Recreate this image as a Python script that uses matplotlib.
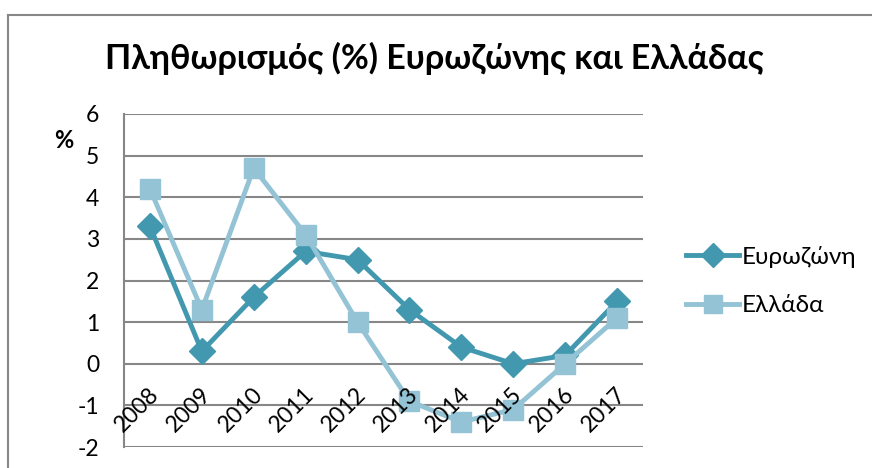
import matplotlib
matplotlib.use("Agg")
import matplotlib.pyplot as plt
from matplotlib.lines import Line2D
import matplotlib.transforms as mtransforms

years = ["2008", "2009", "2010", "2011", "2012", "2013", "2014", "2015", "2016", "2017"]
eurozone = [3.3, 0.3, 1.6, 2.7, 2.5, 1.3, 0.4, 0.0, 0.2, 1.5]
greece = [4.2, 1.3, 4.7, 3.1, 1.0, -0.9, -1.4, -1.1, 0.0, 1.1]
y_ticks = [-2, -1, 0, 1, 2, 3, 4, 5, 6]

title = "Πληθωρισμός (%) Ευρωζώνης και Ελλάδας"
series_names = ["Ευρωζώνη", "Ελλάδα"]

C_EZ = "#4298AF"
C_GR = "#93C3D4"
GRID = "#878787"
FONT = ["Lato", "DejaVu Sans"]

W, H = 872, 468
fig = plt.figure(figsize=(W / 100, H / 100), dpi=100)
fig.patch.set_facecolor("white")

# plot area in pixels: left 124, right 643, top 114, bottom 447
l, r, t, b = 124, 643, 114, 447
ax = fig.add_axes([l / W, 1 - b / H, (r - l) / W, (b - t) / H])
ax.set_xlim(-0.5, len(years) - 0.5)
ax.set_ylim(-2, 6)
ax.set_yticks(y_ticks)
ax.set_yticklabels([str(v) for v in y_ticks], fontsize=16.5, family=FONT)
ax.tick_params(axis="y", length=0, pad=18)
ax.set_xticks([])
for s in ["top", "right", "bottom"]:
    ax.spines[s].set_visible(False)
ax.spines["left"].set_color(GRID)
ax.spines["left"].set_linewidth(1.5)
ax.grid(axis="y", color=GRID, linewidth=1.5)
ax.set_axisbelow(True)

x = list(range(len(years)))
ax.plot(x, eurozone, color=C_EZ, lw=3.5, marker="D", ms=13, mec=C_EZ, mfc=C_EZ,
        zorder=3)
ax.plot(x, greece, color=C_GR, lw=3.5, marker="s", ms=14, mec=C_GR, mfc=C_GR,
        zorder=4)

# rotated category labels placed at the zero crossing
off = mtransforms.ScaledTranslation(-2 / 100, -20 / 100, fig.dpi_scale_trans)
for i, yr in enumerate(years):
    ax.text(i, 0, yr, rotation=45, ha="right", va="top", rotation_mode="anchor",
            fontsize=16.5, family=FONT, transform=ax.transData + off, zorder=5)

# % label
fig.text(64 / W, 1 - 141 / H, "%", fontsize=17, fontweight="bold", family=FONT,
         ha="center", va="center")

# title
fig.text(434 / W, 1 - 58 / H, title, fontsize=24.5, fontweight="bold", family=FONT,
         ha="center", va="center")

# legend
handles = [Line2D([], [], color=C_EZ, lw=3.5, marker="D", ms=12),
           Line2D([], [], color=C_GR, lw=3.5, marker="s", ms=13)]
fig.legend(handles, series_names, loc="center left",
           bbox_to_anchor=(664 / W, 1 - 281 / H), frameon=False,
           prop={"family": FONT, "size": 17.5}, handlelength=2.2,
           handletextpad=0.1, labelspacing=1.15)

# chart border (top and left only visible)
fig.add_artist(Line2D([8 / W, 1], [1 - 15 / H, 1 - 15 / H], color=GRID, lw=1.5))
fig.add_artist(Line2D([8 / W, 8 / W], [0, 1 - 15 / H], color=GRID, lw=1.5))

fig.savefig("out.png", dpi=100, facecolor="white")
